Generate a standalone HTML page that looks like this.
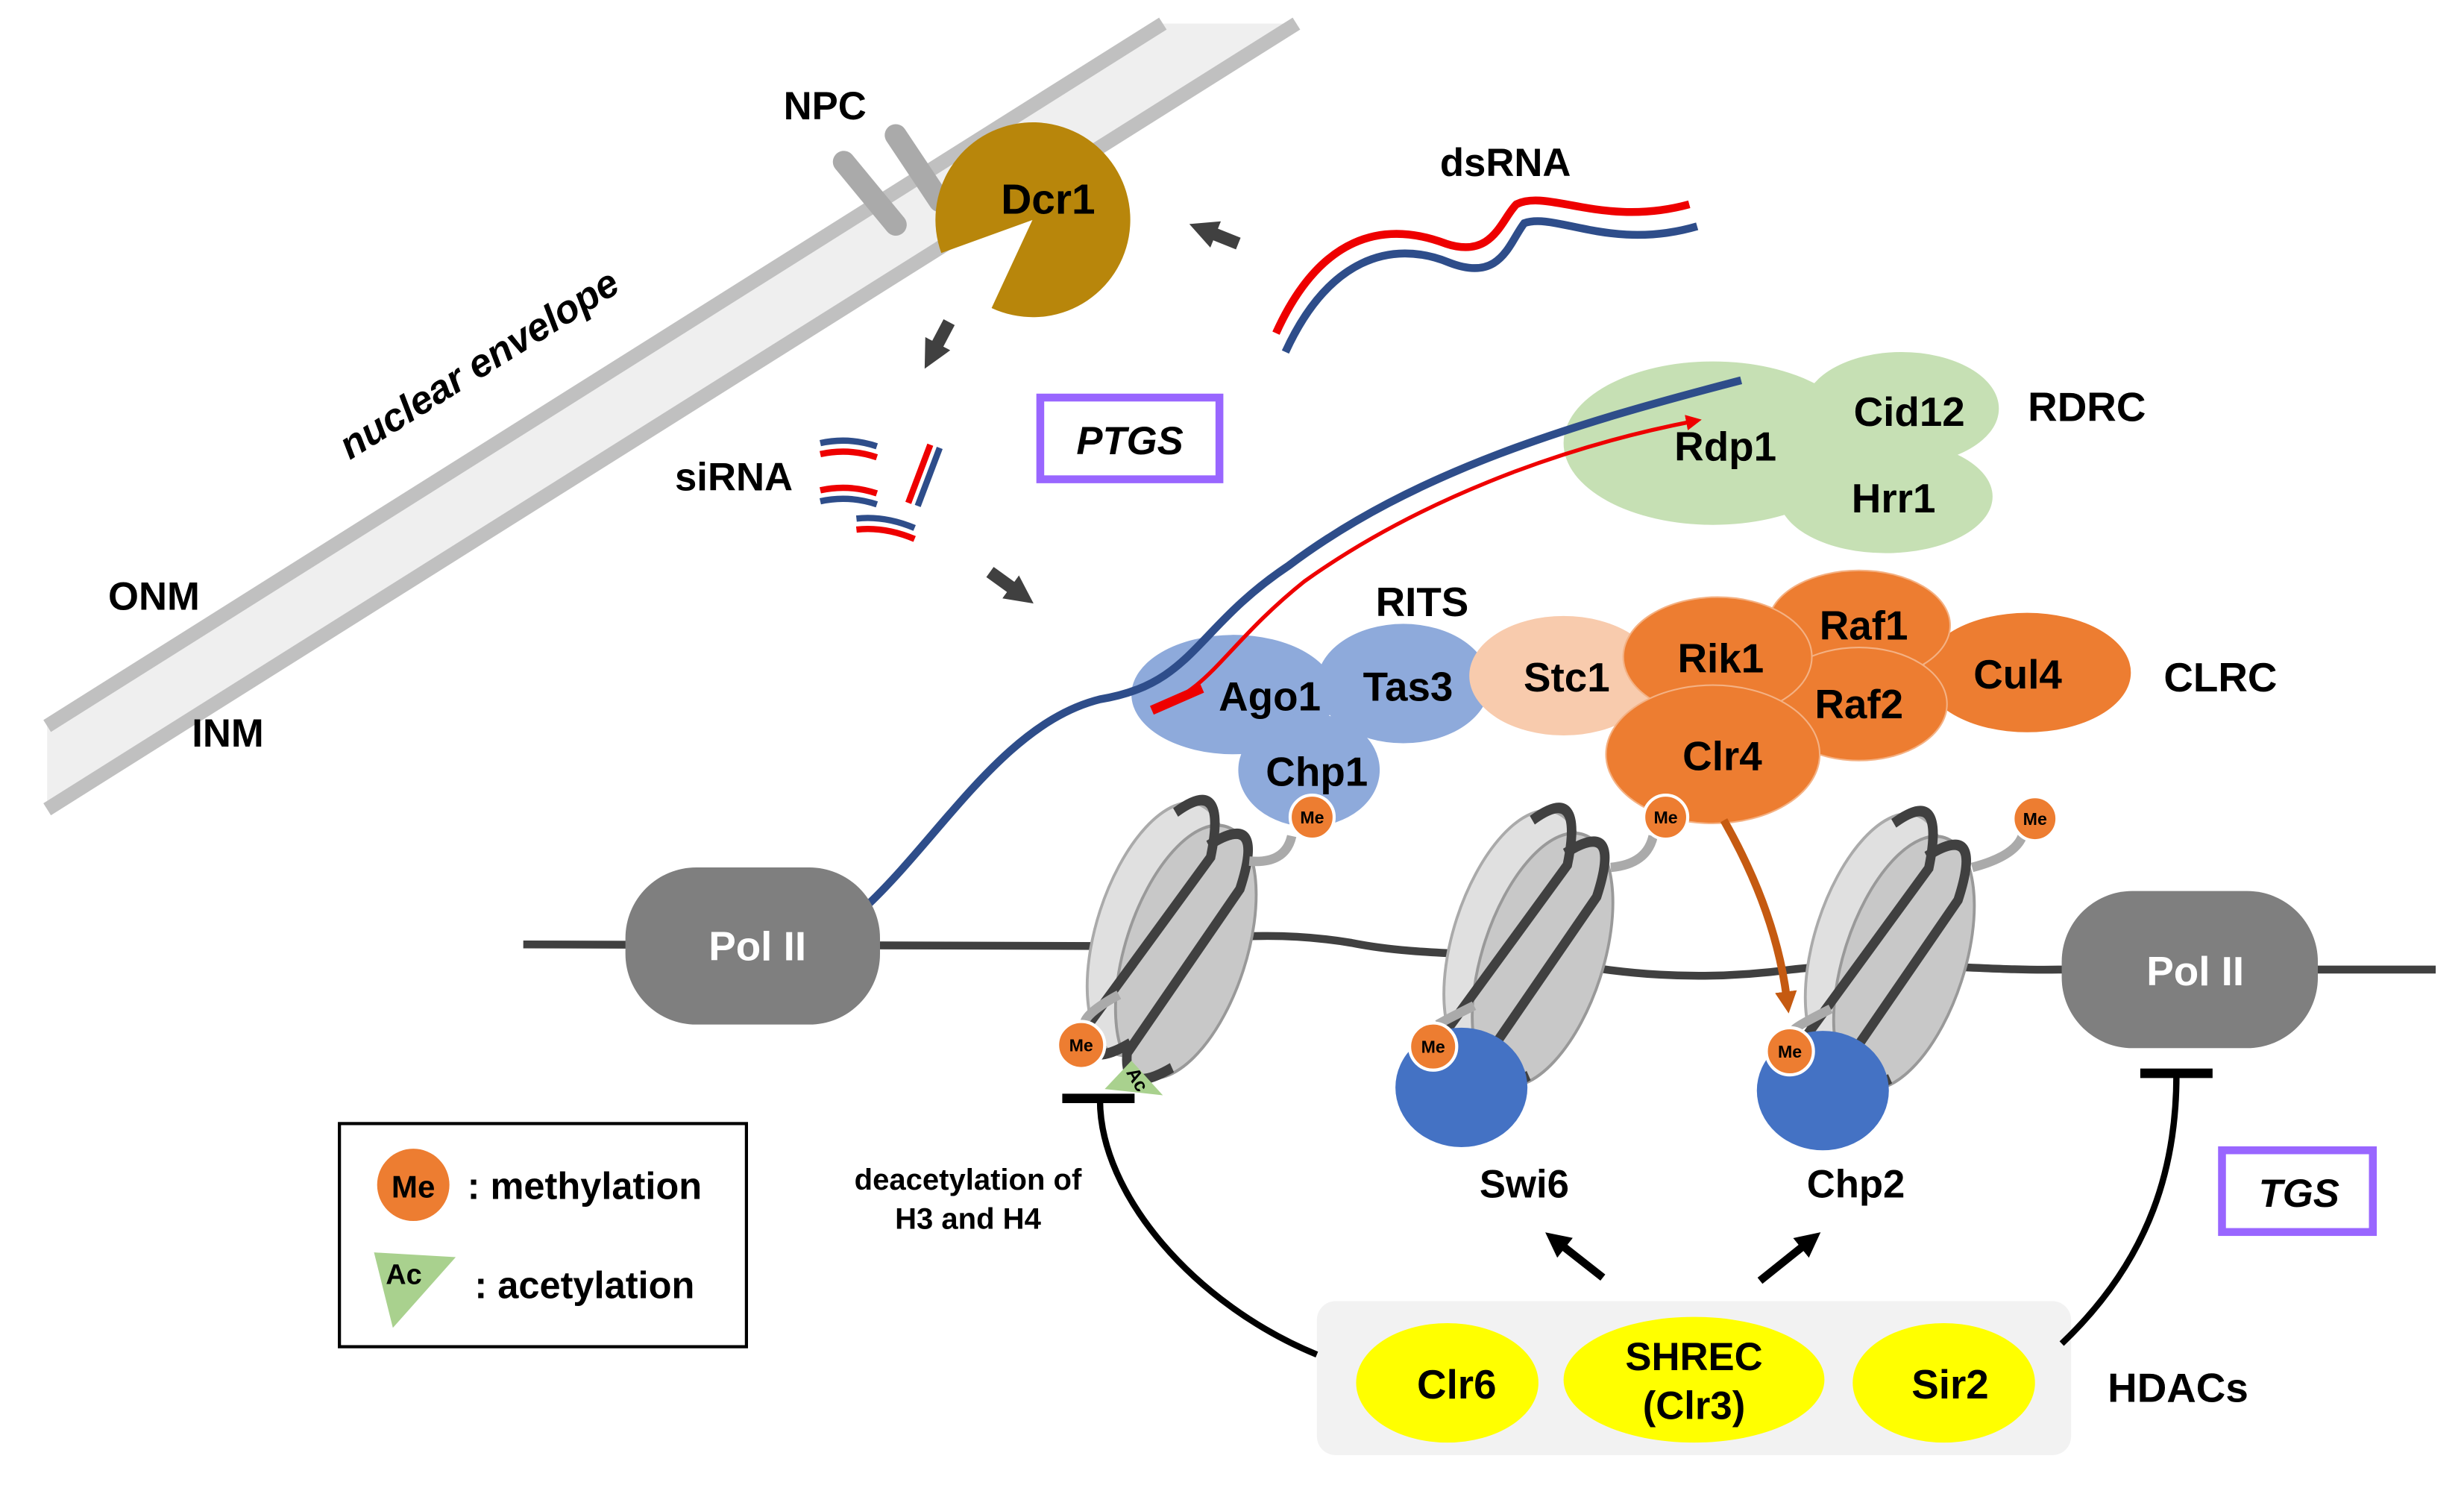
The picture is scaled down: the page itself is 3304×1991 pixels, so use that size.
<!DOCTYPE html>
<html><head><meta charset="utf-8"><style>
html,body{margin:0;padding:0;background:#fff;}
svg{display:block;}
text{font-family:"Liberation Sans",Arial,sans-serif;font-weight:bold;}
</style></head><body>
<svg width="3304" height="1991" viewBox="0 0 1568 945" preserveAspectRatio="none" xmlns="http://www.w3.org/2000/svg">
<defs>
<marker id="ah" markerWidth="18" markerHeight="18" refX="6" refY="9" orient="auto" markerUnits="userSpaceOnUse"><path d="M0,0 L18,9 L0,18 z" fill="#404040"/></marker>
<marker id="ahk" markerWidth="16" markerHeight="16" refX="5" refY="8" orient="auto" markerUnits="userSpaceOnUse"><path d="M0,0 L16,8 L0,16 z" fill="#000"/></marker>
<marker id="aho" markerWidth="14" markerHeight="14" refX="4" refY="7" orient="auto" markerUnits="userSpaceOnUse"><path d="M0,0 L14,7 L0,14 z" fill="#c55a11"/></marker>
<marker id="ahr" markerWidth="10" markerHeight="10" refX="5" refY="5" orient="auto" markerUnits="userSpaceOnUse"><path d="M0,0 L10,5 L0,10 z" fill="#e00"/></marker>
<g id="nuc">
<ellipse cx="-10" cy="0" rx="32" ry="62" fill="#e0e0e0" stroke="#aaa" stroke-width="1.5"/>
<ellipse cx="8" cy="6" rx="32" ry="62" fill="#c8c8c8" stroke="#999" stroke-width="1.5"/>
<path d="M-20,-55 Q0,-80 5,-40 L-30,55 Q-25,75 -5,55" fill="none" stroke="#404040" stroke-width="5"/>
<path d="M2,-45 Q25,-70 25,-30 L-5,60 Q0,80 20,60" fill="none" stroke="#404040" stroke-width="5"/>
</g>
</defs>

<!-- nuclear envelope -->
<polygon points="30,462 740,15 825,15 30,515" fill="#efefef"/>
<line x1="30" y1="462" x2="740" y2="15" stroke="#c0c0c0" stroke-width="9"/>
<line x1="30" y1="515" x2="825" y2="15" stroke="#c0c0c0" stroke-width="9"/>
<text x="305" y="240" font-size="25" transform="rotate(-32 305 232)" text-anchor="middle" font-style="italic">nuclear envelope</text>
<text x="98" y="388" font-size="25" text-anchor="middle">ONM</text>
<text x="145" y="475" font-size="25" text-anchor="middle">INM</text>

<!-- NPC -->
<line x1="537" y1="103" x2="570" y2="143" stroke="#aaa" stroke-width="14" stroke-linecap="round"/>
<line x1="570" y1="86" x2="598" y2="128" stroke="#aaa" stroke-width="14" stroke-linecap="round"/>
<text x="525" y="76" font-size="25" text-anchor="middle">NPC</text>

<!-- Dcr1 -->
<path d="M657,140 L631,196 A62,62 0 1 0 599,161 Z" fill="#b8860b"/>
<text x="667" y="136" font-size="27" text-anchor="middle">Dcr1</text>
<line x1="788" y1="155" x2="768" y2="147" stroke="#404040" stroke-width="8" marker-end="url(#ah)"/>

<!-- dsRNA -->
<path d="M812,212 C840,150 880,140 920,155 C950,165 955,140 965,130 C985,120 1020,145 1075,130" fill="none" stroke="#e00" stroke-width="5"/>
<path d="M818,224 C845,165 885,152 922,167 C955,180 960,155 970,142 C990,135 1025,160 1080,144" fill="none" stroke="#2e4d8a" stroke-width="5"/>
<text x="958" y="112" font-size="25" text-anchor="middle">dsRNA</text>

<!-- siRNA -->
<line x1="604" y1="205" x2="594" y2="224" stroke="#404040" stroke-width="8" marker-end="url(#ah)"/>
<text x="467" y="312" font-size="25" text-anchor="middle">siRNA</text>
<path d="M522,282 Q540,278 558,284" fill="none" stroke="#2e4d8a" stroke-width="4"/>
<path d="M522,289 Q540,285 558,291" fill="none" stroke="#e00" stroke-width="4"/>
<path d="M522,312 Q540,308 558,314" fill="none" stroke="#e00" stroke-width="4"/>
<path d="M522,319 Q540,315 558,321" fill="none" stroke="#2e4d8a" stroke-width="4"/>
<path d="M592,283 L578,320" fill="none" stroke="#e00" stroke-width="4"/>
<path d="M598,285 L584,322" fill="none" stroke="#2e4d8a" stroke-width="4"/>
<path d="M545,330 Q563,328 582,336" fill="none" stroke="#2e4d8a" stroke-width="4"/>
<path d="M545,337 Q563,335 582,343" fill="none" stroke="#e00" stroke-width="4"/>
<line x1="630" y1="364" x2="648" y2="377" stroke="#404040" stroke-width="8" marker-end="url(#ah)"/>

<!-- PTGS -->
<rect x="662" y="253" width="114" height="52" fill="#fff" stroke="#9966ff" stroke-width="5"/>
<text x="719" y="289" font-size="25" text-anchor="middle" font-style="italic">PTGS</text>

<!-- RDRC -->
<ellipse cx="1210" cy="260" rx="62" ry="36" fill="#c6e0b4"/>
<ellipse cx="1200" cy="316" rx="68" ry="36" fill="#c6e0b4"/>
<ellipse cx="1090" cy="282" rx="95" ry="52" fill="#c6e0b4"/>
<text x="1098" y="293" font-size="26" text-anchor="middle">Rdp1</text>
<text x="1215" y="271" font-size="26" text-anchor="middle">Cid12</text>
<text x="1205" y="326" font-size="26" text-anchor="middle">Hrr1</text>
<text x="1328" y="268" font-size="26" text-anchor="middle">RDRC</text>

<!-- RITS -->
<ellipse cx="893" cy="435" rx="55" ry="38" fill="#8eaadb"/>
<ellipse cx="785" cy="442" rx="65" ry="38" fill="#8eaadb"/>
<ellipse cx="833" cy="490" rx="45" ry="36" fill="#8eaadb"/>
<text x="808" y="452" font-size="26" text-anchor="middle">Ago1</text>
<text x="896" y="446" font-size="26" text-anchor="middle">Tas3</text>
<text x="838" y="500" font-size="26" text-anchor="middle">Chp1</text>
<text x="905" y="392" font-size="26" text-anchor="middle">RITS</text>

<!-- Stc1 & CLRC -->
<ellipse cx="995" cy="430" rx="60" ry="38" fill="#f8cbad"/>
<text x="997" y="440" font-size="26" text-anchor="middle">Stc1</text>
<ellipse cx="1290" cy="428" rx="66" ry="38" fill="#ed7d31"/>
<ellipse cx="1183" cy="398" rx="58" ry="35" fill="#ed7d31" stroke="#f4b183" stroke-width="1"/>
<ellipse cx="1183" cy="448" rx="56" ry="36" fill="#ed7d31" stroke="#f4b183" stroke-width="1"/>
<ellipse cx="1093" cy="418" rx="60" ry="38" fill="#ed7d31" stroke="#f4b183" stroke-width="1"/>
<ellipse cx="1090" cy="480" rx="68" ry="44" fill="#ed7d31" stroke="#f4b183" stroke-width="1"/>
<text x="1095" y="428" font-size="26" text-anchor="middle">Rik1</text>
<text x="1186" y="407" font-size="26" text-anchor="middle">Raf1</text>
<text x="1183" y="457" font-size="26" text-anchor="middle">Raf2</text>
<text x="1284" y="438" font-size="26" text-anchor="middle">Cul4</text>
<text x="1096" y="490" font-size="26" text-anchor="middle">Clr4</text>
<text x="1413" y="440" font-size="26" text-anchor="middle">CLRC</text>

<!-- RNA transcript -->
<path d="M553,575 C600,530 640,460 700,445 C760,435 760,400 820,360 C900,300 1000,270 1108,242" fill="none" stroke="#2e4d8a" stroke-width="5"/>
<path d="M735,450 C770,440 780,410 830,370 C900,320 990,285 1078,268" fill="none" stroke="#e00" stroke-width="2.5" marker-end="url(#ahr)"/>
<path d="M733,452 L765,438" stroke="#e00" stroke-width="6"/>

<!-- DNA -->
<path d="M333,601 L700,602 C760,600 800,590 860,600 C900,608 940,606 980,610 C1030,620 1080,625 1140,617 C1200,610 1260,618 1310,617 L1550,617" fill="none" stroke="#404040" stroke-width="5"/>

<!-- nucleosomes -->
<g transform="translate(748,595) rotate(18) scale(1.2,1.35)"><use href="#nuc"/></g>
<g transform="translate(975,600) rotate(18) scale(1.2,1.35)"><use href="#nuc"/></g>
<g transform="translate(1205,602) rotate(18) scale(1.2,1.35)"><use href="#nuc"/></g>

<!-- tails -->
<path d="M795,548 Q818,550 822,532" fill="none" stroke="#aaa" stroke-width="6"/>
<path d="M1025,552 Q1048,550 1052,532" fill="none" stroke="#aaa" stroke-width="6"/>
<path d="M1255,552 Q1282,545 1287,532" fill="none" stroke="#aaa" stroke-width="6"/>
<path d="M712,633 Q690,645 690,652" fill="none" stroke="#aaa" stroke-width="6"/>
<path d="M938,640 Q918,650 915,652" fill="none" stroke="#aaa" stroke-width="6"/>
<path d="M1165,642 Q1145,652 1142,655" fill="none" stroke="#aaa" stroke-width="6"/>

<!-- Pol II -->
<rect x="398" y="552" width="162" height="100" rx="45" fill="#7f7f7f"/>
<text x="482" y="611" font-size="26" fill="#fff" text-anchor="middle">Pol II</text>
<rect x="1312" y="567" width="163" height="100" rx="45" fill="#7f7f7f"/>
<text x="1397" y="627" font-size="26" fill="#fff" text-anchor="middle">Pol II</text>

<!-- HP1 -->
<ellipse cx="930" cy="692" rx="42" ry="38" fill="#4472c4"/>
<ellipse cx="1160" cy="694" rx="42" ry="38" fill="#4472c4"/>

<!-- Clr4 arrow -->
<path d="M1097,522 Q1130,580 1137,635" fill="none" stroke="#c55a11" stroke-width="5" marker-end="url(#aho)"/>

<!-- Me circles -->
<g font-size="11" text-anchor="middle">
<circle cx="835" cy="520" r="14" fill="#ed7d31" stroke="#fff" stroke-width="2"/><text x="835" y="524">Me</text>
<circle cx="1060" cy="520" r="14" fill="#ed7d31" stroke="#fff" stroke-width="2"/><text x="1060" y="524">Me</text>
<circle cx="1295" cy="521" r="14" fill="#ed7d31" stroke="#fff" stroke-width="2"/><text x="1295" y="525">Me</text>
<circle cx="688" cy="665" r="15" fill="#ed7d31" stroke="#fff" stroke-width="2"/><text x="688" y="669">Me</text>
<circle cx="912" cy="666" r="15" fill="#ed7d31" stroke="#fff" stroke-width="2"/><text x="912" y="670">Me</text>
<circle cx="1139" cy="669" r="15" fill="#ed7d31" stroke="#fff" stroke-width="2"/><text x="1139" y="673">Me</text>
</g>
<polygon points="703,693 720,675 740,697" fill="#a9d18e"/>
<text x="722" y="690" font-size="12" transform="rotate(60 722 688)" text-anchor="middle">Ac</text>

<text x="970" y="762" font-size="25" text-anchor="middle">Swi6</text>
<text x="1181" y="762" font-size="25" text-anchor="middle">Chp2</text>

<!-- HDACs -->
<rect x="838" y="828" width="480" height="98" rx="12" fill="#f2f2f2"/>
<ellipse cx="921" cy="880" rx="58" ry="38" fill="#ffff00"/>
<ellipse cx="1078" cy="878" rx="83" ry="40" fill="#ffff00"/>
<ellipse cx="1237" cy="880" rx="58" ry="38" fill="#ffff00"/>
<text x="927" y="890" font-size="26" text-anchor="middle">Clr6</text>
<text x="1078" y="872" font-size="25" text-anchor="middle">SHREC</text>
<text x="1078" y="903" font-size="25" text-anchor="middle">(Clr3)</text>
<text x="1241" y="890" font-size="26" text-anchor="middle">Sir2</text>
<text x="1386" y="892" font-size="26" text-anchor="middle">HDACs</text>

<line x1="1020" y1="813" x2="992" y2="791" stroke="#000" stroke-width="5" marker-end="url(#ahk)"/>
<line x1="1120" y1="815" x2="1150" y2="791" stroke="#000" stroke-width="5" marker-end="url(#ahk)"/>

<path d="M838,862 C760,830 700,760 700,700" fill="none" stroke="#000" stroke-width="4"/>
<line x1="676" y1="699" x2="722" y2="699" stroke="#000" stroke-width="6"/>
<path d="M1312,855 C1370,800 1385,740 1385,684" fill="none" stroke="#000" stroke-width="4"/>
<line x1="1362" y1="683" x2="1408" y2="683" stroke="#000" stroke-width="6"/>

<text x="616" y="757" font-size="19" text-anchor="middle">deacetylation of</text>
<text x="616" y="782" font-size="19" text-anchor="middle">H3 and H4</text>

<!-- TGS -->
<rect x="1414" y="732" width="96" height="52" fill="#fff" stroke="#9966ff" stroke-width="5"/>
<text x="1463" y="768" font-size="25" text-anchor="middle" font-style="italic">TGS</text>

<!-- Legend -->
<rect x="216" y="715" width="259" height="142" fill="#fff" stroke="#000" stroke-width="2"/>
<circle cx="263" cy="754" r="23" fill="#ed7d31"/>
<text x="263" y="762" font-size="20" text-anchor="middle">Me</text>
<text x="372" y="763" font-size="24" text-anchor="middle">: methylation</text>
<polygon points="238,797 290,800 250,845" fill="#a9d18e"/>
<text x="257" y="817" font-size="18" text-anchor="middle">Ac</text>
<text x="372" y="826" font-size="24" text-anchor="middle">: acetylation</text>
</svg>
</body></html>
